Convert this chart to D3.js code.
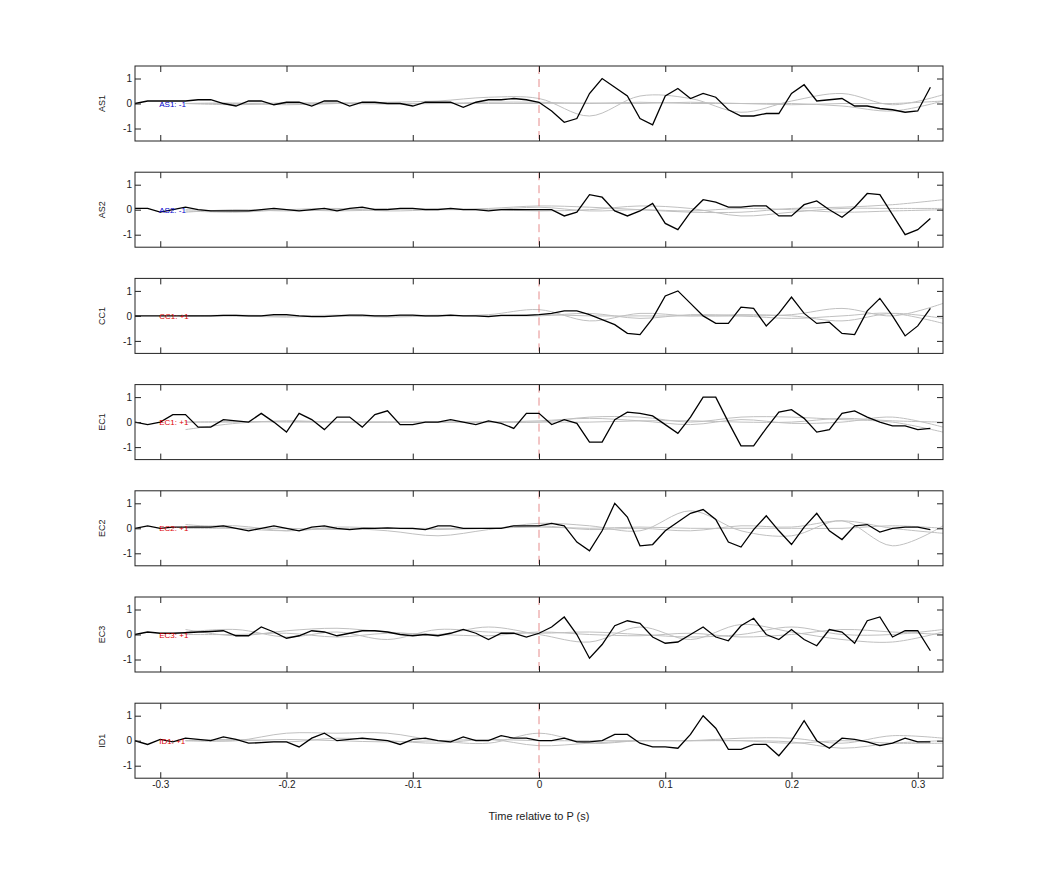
<!DOCTYPE html>
<html><head><meta charset="utf-8">
<script src="https://cdn.jsdelivr.net/npm/d3@7"></script>
<style>body{margin:0;background:#fff}text{font-family:"Liberation Sans",Arial,sans-serif}</style>
</head><body>
<script>
// station names, polarity labels and label colours
const stations = ["AS1", "AS2", "CC1", "EC1", "EC2", "EC3", "ID1"];
const polarity = ["AS1: -1", "AS2: -1", "CC1: +1", "EC1: +1", "EC2: +1", "EC3: +1", "ID1: +1"];
const labelColors = ["#0000cc", "#0000cc", "#dd0000", "#dd0000", "#dd0000", "#dd0000", "#dd0000"];

// sample times of the black traces: -0.32 .. 0.31 every 0.01
const times = d3.range(64).map(i => +(-0.32 + i * 0.01).toFixed(2));

const traceAS1 = [0,0.1,0.1,0.1,0.1,0.15,0.15,0,-0.1,0.1,0.1,-0.05,0.05,0.05,-0.1,0.1,0.1,-0.1,0.05,0.05,0,0,-0.1,0.05,0.05,0.05,-0.15,0.05,0.15,0.15,0.2,0.15,
  0.05,-0.3,-0.75,-0.6,0.4,1.0,0.65,0.3,-0.6,-0.85,0.3,0.6,0.2,0.4,0.25,-0.25,-0.5,-0.5,-0.4,-0.4,0.4,0.75,0.1,0.15,0.2,-0.1,-0.1,-0.2,-0.25,-0.35,-0.3,0.65];
const traceAS2 = [0.05,0.05,-0.1,0,0.1,0,-0.05,-0.05,-0.05,-0.05,0,0.05,0,-0.05,0,0.05,-0.05,0.05,0.1,0,0,0.05,0.05,0,0,0.05,0,0,-0.05,0,0,0,
  0,0,-0.25,-0.1,0.6,0.5,-0.05,-0.25,-0.05,0.25,-0.55,-0.8,-0.1,0.4,0.3,0.1,0.1,0.15,0.15,-0.25,-0.25,0.2,0.35,0,-0.3,0.1,0.65,0.6,-0.2,-1.0,-0.8,-0.35];
const traceCC1 = [0,0,0,0,0,0,0,0.02,0.02,0,0,0.05,0.05,0,-0.03,-0.03,0,0.03,0.03,0,0,0.03,0.03,0,0,0.03,0,0,-0.03,0.02,0.02,0.02,
  0.05,0.1,0.2,0.2,0.05,-0.15,-0.35,-0.7,-0.75,-0.1,0.8,1.0,0.5,0,-0.3,-0.3,0.35,0.3,-0.4,0.1,0.75,0.1,-0.3,-0.25,-0.7,-0.75,0.2,0.7,0,-0.8,-0.4,0.3];
const traceEC1 = [0,-0.1,0,0.3,0.3,-0.2,-0.2,0.1,0.05,0,0.35,0,-0.4,0.35,0.1,-0.3,0.2,0.2,-0.2,0.3,0.45,-0.1,-0.1,0,0,0.1,0,-0.1,0.05,-0.05,-0.25,0.35,
  0.35,-0.1,0.1,-0.05,-0.8,-0.8,0.1,0.4,0.35,0.25,-0.1,-0.45,0.2,1.0,1.0,0,-0.95,-0.95,-0.25,0.4,0.5,0.15,-0.4,-0.3,0.35,0.45,0.2,0,-0.15,-0.15,-0.3,-0.25];
const traceEC2 = [0,0.1,0,0.05,0.05,0.05,0.05,0.1,0,-0.1,0,0.1,0,-0.1,0.05,0.1,0,-0.05,0,0,0.02,0,0,-0.05,0.1,0.1,0,0,0,0,0.1,0.1,
  0.1,0.2,0.1,-0.55,-0.9,-0.1,1.0,0.45,-0.7,-0.65,-0.1,0.25,0.6,0.75,0.35,-0.55,-0.75,-0.05,0.5,-0.1,-0.65,0.05,0.6,-0.1,-0.45,0.1,0.15,-0.15,0,0.05,0.05,-0.05];
const traceEC3 = [0,0.1,0.05,0.05,0.07,0.1,0.12,0.15,-0.05,-0.05,0.3,0.1,-0.15,-0.05,0.15,0.1,-0.05,0.05,0.15,0.15,0.1,0,-0.05,0,-0.05,0.05,0.2,0.05,-0.2,0.05,0.05,-0.1,
  0.05,0.3,0.7,0,-0.95,-0.4,0.35,0.55,0.45,-0.1,-0.35,-0.3,0,0.3,-0.1,-0.25,0.35,0.65,0,-0.2,0.2,-0.2,-0.45,0.2,0.1,-0.35,0.55,0.7,-0.1,0.15,0.15,-0.65];
const traceID1 = [0,-0.15,0.05,-0.05,0.1,0.05,0,0.15,0.05,-0.1,-0.08,-0.05,-0.05,-0.25,0.1,0.3,0,0.05,0.1,0.05,0,-0.15,0.05,0.1,0,-0.05,0.15,0,0,0.2,0.1,0.1,
  0,0,0.1,-0.05,-0.05,0,0.25,0.25,-0.1,-0.25,-0.25,-0.3,0.25,1.0,0.5,-0.35,-0.35,-0.15,-0.15,-0.6,0,0.8,0,-0.3,0.1,0.05,-0.05,-0.2,-0.1,0.1,-0.05,-0.05];
const traces = [traceAS1, traceAS2, traceCC1, traceEC1, traceEC2, traceEC3, traceID1];

// gray comparison waveforms, sampled every 0.04 s from -0.28 to 0.32
const grayTimes = d3.range(16).map(i => +(-0.28 + i * 0.04).toFixed(2));
const grayAS1 = [
  [0,0.02,-0.05,0,0.05,0.1,0.25,0.2,-0.5,0.3,0.2,-0.35,0.1,0.4,-0.05,0.35],
  [0,-0.05,0,0.03,0,0,0.05,0.05,0,0.05,0,0,-0.05,0,0,0.1],
  [0,0,0.02,0,-0.02,0,0,0,0.02,0,0.05,0,0,-0.1,-0.3,0.1]];
const grayAS2 = [
  [-0.05,-0.1,0,0.05,-0.05,0,0.05,0.15,0.1,0,-0.1,-0.1,0.05,0.1,0.2,0.4],
  [-0.1,0,-0.05,0,0.05,0,0,-0.05,0,0.15,0.05,-0.25,-0.1,0.05,0.05,0.05],
  [0,-0.05,0,-0.05,0,0.05,0,0.1,-0.05,0,-0.05,0.05,0,-0.1,-0.05,0]];
const grayCC1 = [
  [0,0.03,0,0,0,0,0.05,0.25,-0.2,0.1,0,0,0.05,0.3,0,0.5],
  [0,0,-0.05,0,-0.05,0,0,0,0.1,-0.1,0.05,0,-0.1,0,0.1,-0.3],
  [0,0,0,0.03,0,0.03,0,0.05,0,0,0,0.05,0,-0.2,0.1,-0.1]];
const grayEC1 = [
  [-0.3,-0.05,0.05,0,0,0,0,0,0.2,0.2,0,0.2,0.2,0.1,0,-0.4],
  [0,0.02,0,0,0,0,0,0.05,0.15,0.05,-0.1,0.1,-0.05,0,0.2,-0.2],
  [0,0,0.03,0,0,0,0,0,0,0.05,0.05,0,0,0.15,0.05,0]];
const grayEC2 = [
  [0.15,0,-0.1,0,-0.1,-0.3,-0.05,0.2,0.1,-0.1,0.7,-0.1,-0.3,0.3,-0.7,0.1],
  [0.05,0.1,-0.1,0.05,0,0,0,0.1,-0.05,0,-0.1,0.1,0.05,0.3,0,-0.2],
  [0,0,0,-0.05,0,-0.05,0,0.05,0,0.05,0,0,0,0,0.1,0]];
const grayEC3 = [
  [0.2,-0.05,0.15,0.25,0.1,0,0.3,0,-0.3,0.3,-0.2,0.4,0.1,-0.2,-0.3,0.1],
  [0.1,0.2,-0.1,0.1,-0.2,0.2,0.1,0.05,0.1,0,-0.1,0,0.3,0,0,0.2],
  [0,0,0.05,-0.1,0.05,0,-0.05,0.1,0,-0.05,0.05,-0.1,0,0.2,0.1,0]];
const grayID1 = [
  [0,0,0.3,0.3,0.3,0,-0.1,0.3,-0.1,0,0,0,-0.1,0,-0.1,-0.1],
  [0,0.05,-0.05,0.1,0,-0.1,0.05,-0.2,-0.1,0,0,0.1,0.1,-0.1,0.2,0.1],
  [0,0,0.05,0,-0.05,0,0.05,0,0,0,0,0,-0.05,-0.3,-0.1,0]];
const grays = [grayAS1, grayAS2, grayCC1, grayEC1, grayEC2, grayEC3, grayID1];

const xTicks = [-0.3, -0.2, -0.1, 0, 0.1, 0.2, 0.3];
const yTicks = [-1, 0, 1];

const W = 1042, H = 875;
const left = 135, plotW = 808, panelH = 75, top0 = 66, step = 106.2;

const svg = d3.select("body").append("svg").attr("width", W).attr("height", H);
const x = d3.scaleLinear().domain([-0.32, 0.32]).range([left, left + plotW]);
const plain = d => String(d);

stations.forEach((st, k) => {
  const top = top0 + k * step;
  const y = d3.scaleLinear().domain([-1.5, 1.5]).range([top + panelH, top]);
  const g = svg.append("g");

  g.append("clipPath").attr("id", "c" + k).append("rect")
    .attr("x", left).attr("y", top).attr("width", plotW).attr("height", panelH);
  const body = g.append("g").attr("clip-path", "url(#c" + k + ")");

  const grayLine = d3.line().x((d, i) => x(grayTimes[i])).y(d => y(d)).curve(d3.curveCatmullRom);
  grays[k].forEach(arr => body.append("path").attr("d", grayLine(arr))
    .attr("fill", "none").attr("stroke", "#c0c0c0").attr("stroke-width", 1));

  body.append("line").attr("x1", x(0)).attr("x2", x(0)).attr("y1", top).attr("y2", top + panelH)
    .attr("stroke", "#e07070").attr("stroke-dasharray", "8,5").attr("stroke-width", 0.8);

  const line = d3.line().x((d, i) => x(times[i])).y(d => y(d));
  body.append("path").attr("d", line(traces[k]))
    .attr("fill", "none").attr("stroke", "#000").attr("stroke-width", 1.3);

  g.append("text").attr("x", x(-0.3) - 1).attr("y", y(0) + 3).attr("font-size", 8)
    .attr("fill", labelColors[k]).text(polarity[k]);

  // axes with inward ticks on all sides
  g.append("g").attr("transform", `translate(0,${top + panelH})`)
    .call(d3.axisBottom(x).tickValues(xTicks).tickSizeInner(-6).tickSizeOuter(0)
      .tickFormat(k === stations.length - 1 ? plain : ""));
  g.append("g").attr("transform", `translate(0,${top})`)
    .call(d3.axisTop(x).tickValues(xTicks).tickSizeInner(-6).tickSizeOuter(0).tickFormat(""));
  g.append("g").attr("transform", `translate(${left},0)`)
    .call(d3.axisLeft(y).tickValues(yTicks).tickSizeInner(-6).tickSizeOuter(0).tickFormat(plain));
  g.append("g").attr("transform", `translate(${left + plotW},0)`)
    .call(d3.axisRight(y).tickValues(yTicks).tickSizeInner(-6).tickSizeOuter(0).tickFormat(""));
  g.selectAll(".domain").remove();
  g.selectAll(".tick text").attr("font-size", 10).attr("fill", "#222");
  g.selectAll(".tick line").attr("stroke", "#222");

  g.append("rect").attr("x", left).attr("y", top).attr("width", plotW).attr("height", panelH)
    .attr("fill", "none").attr("stroke", "#222").attr("stroke-width", 1);

  g.append("text").attr("transform", `translate(${105},${y(0)}) rotate(-90)`)
    .attr("text-anchor", "middle").attr("font-size", 9).attr("fill", "#222").text(st);
});

svg.append("text").attr("x", x(0)).attr("y", 820).attr("text-anchor", "middle")
  .attr("font-size", 11).attr("fill", "#222").text("Time relative to P (s)");
</script>
</body></html>
